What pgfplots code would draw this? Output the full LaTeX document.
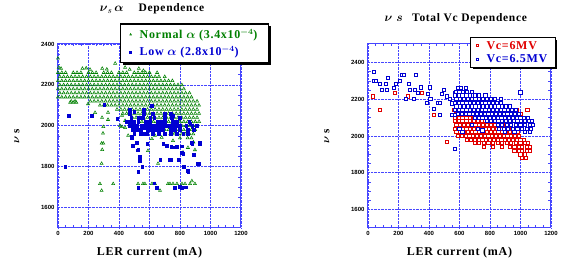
\documentclass[border=0pt]{standalone}
\usepackage{amsmath}
\usepackage{pgfplots}
\pgfplotsset{compat=1.18}
\usepackage{fontspec}
\setmainfont{Liberation Serif}
\newfontfamily\tickfont{Liberation Sans}
\newfontfamily\lsfont[LetterSpace=6]{Liberation Serif}
\usetikzlibrary{shadows}
\definecolor{gr}{RGB}{0,128,0}
\definecolor{bl}{RGB}{0,0,210}
\definecolor{rd}{RGB}{225,0,0}
\definecolor{ax}{RGB}{70,70,255}
\pgfplotsset{
 myaxis/.style={
  scale only axis, width=183pt, height=184pt,
  xmin=0, xmax=1200, xtick={0,200,...,1200},
  ymin=1500,
  ytick={1600,1800,2000,2200,2400},
  axis line style={ax, line width=1pt},
  grid=major, major grid style={ax, densely dotted, line width=0.6pt},
  tick style={ax, line width=0.5pt},
  minor x tick num=3, minor y tick num=3,
  tick align=inside, major tick length=0pt, minor tick length=2.5pt,
  ticklabel style={font=\tickfont\bfseries\fontsize{6}{7}\selectfont},
  /pgf/number format/assume math mode=true,
  /pgf/number format/set thousands separator={},
  xlabel={LER current (mA)},
  xlabel style={font=\lsfont\bfseries\fontsize{12}{14}\selectfont, at={(axis description cs:0.5,-0.136)}, anchor=center},
  ylabel={$\boldsymbol{\nu}$ \textbf{s}},
  ylabel style={at={(axis description cs:-0.225,0.5)}, anchor=center, font=\bfseries\fontsize{11}{13}\selectfont},
  legend cell align=left,
  legend image code/.code={\draw[#1] plot coordinates {(0pt,0pt)};},
  legend image post style={mark size=1pt},
 }
}
\begin{document}
\begin{tikzpicture}
\path[draw=none] (0pt,0pt) rectangle (561pt,264pt);
\begin{axis}[myaxis, at={(58pt,37pt)}, anchor=south west, ymax=2400,
  title={{\fontsize{13}{14}\selectfont$\boldsymbol{\nu}_{s}\,\boldsymbol{\alpha}$}\quad\ Dependence},
  title style={font=\lsfont\bfseries\fontsize{11.5}{13}\selectfont, at={(axis description cs:0.514,1.16)}, anchor=center},
  legend style={at={(axis description cs:0.339,1.112)}, anchor=north west, draw=black, line width=1.2pt, fill=white,
    drop shadow={shadow xshift=2.5pt, shadow yshift=-2.5pt, fill=black, opacity=1},
    font=\lsfont\bfseries\fontsize{12}{13}\selectfont, inner xsep=9pt, inner ysep=3pt, row sep=2pt,
    /tikz/every odd column/.append style={column sep=6pt}},
]
\addplot[only marks, mark=triangle, color=gr, mark size=1.75pt, mark options={line width=0.55pt, fill=white}] coordinates {
(0,2330) (375,2305) (5,2285) (20,2280) (160,2280) (185,2282) (210,2275) (290,2280) (320,2276) (440,2285) (470,2275) (530,2280) (560,2270)
(0,2260) (25,2260) (50,2260) (100,2260) (125,2260) (150,2260) (200,2260) (225,2260) (250,2260) (300,2260) (325,2260) (350,2260) (400,2260) (425,2260) (450,2260) (500,2260) (525,2260) (550,2260) (575,2260) (600,2260) (650,2260)
(12,2240) (37,2240) (62,2240) (87,2240) (112,2240) (137,2240) (162,2240) (187,2240) (212,2240) (237,2240) (262,2240) (287,2240) (312,2240) (337,2240) (362,2240) (387,2240) (412,2240) (437,2240) (462,2240) (487,2240) (512,2240) (537,2240) (562,2240) (587,2240) (612,2240) (637,2240) (662,2240) (700,2240)
(0,2220) (25,2220) (50,2220) (75,2220) (100,2220) (125,2220) (150,2220) (175,2220) (200,2220) (225,2220) (250,2220) (275,2220) (300,2220) (325,2220) (350,2220) (375,2220) (400,2220) (425,2220) (450,2220) (475,2220) (500,2220) (525,2220) (550,2220) (575,2220) (600,2220) (625,2220) (650,2220) (675,2220) (700,2220) (725,2220) (750,2220)
(12,2200) (37,2200) (62,2200) (87,2200) (112,2200) (137,2200) (162,2200) (187,2200) (212,2200) (237,2200) (262,2200) (287,2200) (312,2200) (337,2200) (362,2200) (387,2200) (412,2200) (437,2200) (462,2200) (487,2200) (512,2200) (537,2200) (562,2200) (587,2200) (612,2200) (637,2200) (662,2200) (687,2200) (712,2200) (737,2200) (762,2200) (787,2200) (812,2200)
(0,2180) (25,2180) (50,2180) (75,2180) (100,2180) (125,2180) (150,2180) (175,2180) (200,2180) (225,2180) (250,2180) (275,2180) (300,2180) (325,2180) (350,2180) (375,2180) (400,2180) (425,2180) (450,2180) (475,2180) (500,2180) (525,2180) (550,2180) (575,2180) (600,2180) (625,2180) (650,2180) (675,2180) (700,2180) (725,2180) (750,2180) (775,2180) (800,2180) (825,2180)
(12,2160) (37,2160) (62,2160) (87,2160) (112,2160) (137,2160) (162,2160) (187,2160) (212,2160) (237,2160) (262,2160) (287,2160) (312,2160) (337,2160) (362,2160) (387,2160) (412,2160) (437,2160) (462,2160) (487,2160) (512,2160) (537,2160) (562,2160) (587,2160) (612,2160) (637,2160) (662,2160) (687,2160) (712,2160) (737,2160) (762,2160) (787,2160) (812,2160) (837,2160) (862,2160)
(0,2140) (25,2140) (50,2140) (75,2140) (100,2140) (125,2140) (150,2140) (175,2140) (200,2140) (225,2140) (250,2140) (275,2140) (300,2140) (325,2140) (350,2140) (375,2140) (400,2140) (425,2140) (450,2140) (475,2140) (500,2140) (525,2140) (550,2140) (575,2140) (600,2140) (625,2140) (650,2140) (675,2140) (700,2140) (725,2140) (750,2140) (775,2140) (800,2140) (825,2140) (850,2140) (875,2140)
(87,2120) (112,2120) (212,2120) (237,2120) (262,2120) (287,2120) (312,2120) (337,2120) (362,2120) (387,2120) (412,2120) (437,2120) (462,2120) (487,2120) (512,2120) (537,2120) (562,2120) (587,2120) (612,2120) (637,2120) (662,2120) (687,2120) (712,2120) (737,2120) (762,2120) (787,2120) (812,2120) (837,2120) (862,2120) (887,2120) (912,2120)
(275,2100) (300,2100) (325,2100) (350,2100) (375,2100) (400,2100) (425,2100) (450,2100) (475,2100) (500,2100) (525,2100) (550,2100) (575,2100) (600,2100) (625,2100) (650,2100) (675,2100) (700,2100) (725,2100) (750,2100) (775,2100) (800,2100) (825,2100) (850,2100) (875,2100) (900,2100) (925,2100)
(387,2080) (412,2080) (437,2080) (462,2080) (487,2080) (512,2080) (537,2080) (562,2080) (587,2080) (612,2080) (637,2080) (662,2080) (687,2080) (712,2080) (737,2080) (762,2080) (787,2080) (812,2080) (837,2080) (862,2080) (887,2080) (912,2080)
(425,2060) (450,2060) (475,2060) (500,2060) (525,2060) (550,2060) (575,2060) (600,2060) (625,2060) (650,2060) (675,2060) (700,2060) (725,2060) (750,2060) (775,2060) (800,2060) (825,2060) (850,2060) (875,2060) (900,2060) (925,2060)
(487,2040) (512,2040) (537,2040) (562,2040) (587,2040) (612,2040) (637,2040) (662,2040) (687,2040) (712,2040) (737,2040) (762,2040) (787,2040) (812,2040) (837,2040) (862,2040) (887,2040) (912,2040)
(550,2020) (575,2020) (600,2020) (625,2020) (650,2020) (675,2020) (700,2020) (725,2020) (750,2020) (775,2020) (800,2020) (825,2020) (850,2020) (875,2020) (900,2020) (925,2020)
(612,2000) (637,2000) (662,2000) (687,2000) (712,2000) (737,2000) (762,2000) (787,2000) (812,2000) (837,2000) (862,2000) (887,2000) (912,2000)
(675,1980) (700,1980) (725,1980) (750,1980) (775,1980) (800,1980) (825,1980) (850,1980) (875,1980) (900,1980)
(737,1960) (762,1960) (787,1960) (812,1960) (837,1960) (862,1960) (887,1960)
(800,1940) (850,1940) (875,1940)
(80,2114) (100,2114) (120,2114) (197,2107) (243,2064) (289,2040) (328,2065) (328,2030) (420,2050) (440,2025) (297,1995) (407,2000) (440,1990) (295,1963) (286,1914) (297,1914) (290,1883) (286,1815) (275,1716) (286,1683) (362,1716) (460,1952) (420,1995) (636,1952) (680,1943) (590,1878) (656,1815) (820,1870) (852,1893) (898,1882) (888,1920) (616,1936) (754,1927)
(525,1716) (557,1716) (570,1716) (616,1716) (636,1716) (721,1716) (734,1716) (754,1716) (780,1716) (813,1716) (833,1716) (866,1716) (898,1716) (669,1683) (878,1730)
};
\addlegendentry{\textcolor{gr}{Normal $\boldsymbol{\alpha}$ (3.4x10$^{\boldsymbol{-4}}$)}}
\addplot[only marks, mark=square*, color=bl, mark size=1.35pt, mark options={line width=0.3pt}] coordinates {
(46,1800) (68,2050) (221,2050) (303,2103) (388,2035)
(470,2080) (500,2070) (560,2080) (616,2100) (700,2060) (750,2050)
(470,2060) (560,2060) (620,2060) (740,2060)
(480,2040) (530,2040) (555,2040) (605,2040) (630,2040) (700,2040) (745,2040) (800,2040)
(450,2020) (475,2020) (500,2020) (525,2020) (575,2020) (600,2020) (650,2020) (675,2020) (700,2020) (750,2020) (780,2020) (860,2020)
(470,2000) (495,2000) (520,2000) (545,2000) (570,2000) (595,2000) (620,2000) (645,2000) (670,2000) (695,2000) (720,2000) (745,2000) (770,2000) (800,2000) (840,2000) (880,2000) (910,2000)
(490,1980) (515,1980) (540,1980) (590,1980) (615,1980) (640,1980) (665,1980) (690,1980) (740,1980) (765,1980) (800,1980) (850,1980) (890,1980)
(500,1960) (540,1960) (580,1960) (620,1960) (660,1960) (700,1960) (740,1960) (780,1960) (850,1960)
(525,1882) (537,1849) (551,1800) (525,1777) (525,1698) (649,1698) (669,1834) (741,1834) (793,1834) (826,1800) (852,1780) (918,1815) (767,1698) (813,1698) (839,1700) (584,1912) (557,1962) (485,1946) (518,1917) (689,1912) (741,1897) (780,1897) (820,1863) (879,1912) (931,1912) (866,2010) (820,1962) (813,1900) (560,1990) (481,1942) (490,1902) (520,1880) (535,1830) (670,1833) (730,1833) (714,1902) (765,1895) (812,1870) (877,1917) (890,1860) (854,1775) (925,1815) (930,1917) (800,1703) (808,1700) (630,1720)
};
\addlegendentry{\textcolor{bl}{Low $\boldsymbol{\alpha}$ (2.8x10$^{\boldsymbol{-4}}$)}}
\end{axis}

\begin{axis}[myaxis, at={(368pt,37pt)}, anchor=south west, ymax=2500,
  title={{\fontsize{13}{14}\selectfont$\boldsymbol{\nu}$ $\boldsymbol{s}$}\enspace\ Total Vc Dependence},
  title style={font=\lsfont\bfseries\fontsize{11.5}{13}\selectfont, at={(axis description cs:0.48,1.105)}, anchor=center},
  legend style={at={(axis description cs:0.557,1.038)}, anchor=north west, draw=black, line width=1.2pt, fill=white,
    drop shadow={shadow xshift=2pt, shadow yshift=-2pt, fill=black, opacity=1},
    font=\lsfont\bfseries\fontsize{12}{13}\selectfont, inner xsep=6pt, inner ysep=1.5pt, row sep=0pt,
    /tikz/every odd column/.append style={column sep=6pt}},
]
\addplot[only marks, mark=square*, draw=rd, fill=white, mark size=1.6pt, mark options={line width=0.9pt, draw=rd, fill=white}] coordinates {
(33,2215) (79,2143) (177,2232) (262,2215) (352,2232) (433,2115) (516,1969)
(565,2140) (590,2140) (640,2140) (940,2140) (975,2140) (1045,2140)
(575,2120) (600,2120) (625,2120) (660,2120) (700,2120) (880,2120) (920,2120) (1000,2120)
(570,2100) (595,2100) (620,2100) (645,2100) (670,2100) (695,2100) (720,2100) (745,2100) (770,2100) (830,2100) (900,2100) (960,2100)
(570,2080) (595,2080) (620,2080) (645,2080) (670,2080) (695,2080) (720,2080) (745,2080) (770,2080) (795,2080) (820,2080) (845,2080) (870,2080) (950,2080)
(580,2060) (605,2060) (630,2060) (655,2060) (680,2060) (705,2060) (730,2060) (755,2060) (780,2060) (805,2060) (830,2060) (855,2060) (880,2060) (905,2060) (930,2060)
(570,2040) (595,2040) (620,2040) (645,2040) (670,2040) (695,2040) (720,2040) (745,2040) (770,2040) (795,2040) (820,2040) (845,2040) (870,2040) (895,2040) (920,2040) (945,2040) (970,2040)
(580,2020) (605,2020) (630,2020) (655,2020) (680,2020) (705,2020) (730,2020) (755,2020) (780,2020) (805,2020) (830,2020) (855,2020) (880,2020) (905,2020) (930,2020) (955,2020) (980,2020)
(590,2000) (615,2000) (640,2000) (665,2000) (690,2000) (715,2000) (740,2000) (765,2000) (790,2000) (815,2000) (840,2000) (865,2000) (890,2000) (915,2000) (940,2000) (965,2000) (990,2000)
(650,1980) (675,1980) (700,1980) (725,1980) (750,1980) (775,1980) (800,1980) (825,1980) (850,1980) (875,1980) (900,1980) (925,1980) (950,1980) (975,1980) (1000,1980) (1025,1980)
(700,1960) (730,1960) (760,1960) (790,1960) (820,1960) (850,1960) (880,1960) (910,1960) (940,1960) (970,1960) (1000,1960) (1030,1960) (1050,1960)
(760,1940) (820,1940) (880,1940) (930,1940) (960,1940) (990,1940) (1010,1940) (1040,1940) (1060,1940)
(960,1920) (990,1920) (1010,1920) (1040,1920) (1060,1920)
(1000,1900) (1030,1900) (1010,1880) (1035,1880)
};
\addlegendentry{\textcolor{rd}{Vc=6MV}}
\addplot[only marks, mark=square*, draw=bl, fill=white, mark size=1.6pt, mark options={line width=0.9pt, draw=bl, fill=white}] coordinates {
(41,2346) (39,2300) (50,2300) (79,2283) (91,2250) (120,2283) (131,2317) (126,2250) (171,2262) (184,2283) (210,2297) (221,2333) (236,2333) (313,2333) (249,2203) (269,2283) (276,2250) (302,2203) (308,2250) (326,2232) (347,2264) (385,2180) (394,2229) (406,2264) (410,2203) (433,2148) (457,2180) (470,2180) (472,2115) (485,2229) (498,2250) (516,2215) (549,2177) (551,2115) (571,2115) (571,2232) (570,1930) (537,2200)
(590,2260) (610,2260) (640,2260)
(575,2240) (600,2240) (625,2240) (650,2240) (680,2240)
(570,2220) (595,2220) (620,2220) (645,2220) (670,2220) (700,2220) (730,2220) (770,2220)
(580,2200) (605,2200) (630,2200) (655,2200) (680,2200) (705,2200) (730,2200) (755,2200) (780,2200) (805,2200) (830,2200) (870,2200)
(570,2180) (595,2180) (620,2180) (645,2180) (670,2180) (695,2180) (720,2180) (745,2180) (770,2180) (795,2180) (820,2180) (845,2180) (870,2180)
(580,2160) (605,2160) (630,2160) (655,2160) (680,2160) (705,2160) (730,2160) (755,2160) (780,2160) (805,2160) (830,2160) (855,2160) (880,2160) (905,2160) (930,2160)
(570,2140) (595,2140) (620,2140) (645,2140) (670,2140) (695,2140) (720,2140) (745,2140) (770,2140) (795,2140) (820,2140) (845,2140) (870,2140) (895,2140) (920,2140) (945,2140) (970,2140)
(590,2120) (615,2120) (640,2120) (665,2120) (690,2120) (715,2120) (740,2120) (765,2120) (790,2120) (815,2120) (840,2120) (865,2120) (890,2120) (915,2120) (940,2120) (965,2120) (990,2120)
(700,2100) (725,2100) (750,2100) (775,2100) (800,2100) (825,2100) (850,2100) (875,2100) (900,2100) (925,2100) (950,2100) (975,2100) (1000,2100) (1025,2100) (1050,2100)
(780,2080) (805,2080) (830,2080) (855,2080) (880,2080) (905,2080) (930,2080) (955,2080) (980,2080) (1005,2080) (1030,2080) (1055,2080) (1075,2080)
(850,2060) (880,2060) (910,2060) (940,2060) (970,2060) (1000,2060) (1030,2060) (1060,2060) (1080,2060)
(860,2040) (890,2040) (920,2040) (950,2040) (980,2040) (1010,2040) (1040,2040) (1070,2040)
(900,2020) (960,2020) (1030,2020) (1060,2020)
(1000,2237) (600,2040) (620,2020) (680,2060) (720,2040) (750,2030)
};
\addlegendentry{\textcolor{bl}{Vc=6.5MV}}
\end{axis}
\end{tikzpicture}
\end{document}
